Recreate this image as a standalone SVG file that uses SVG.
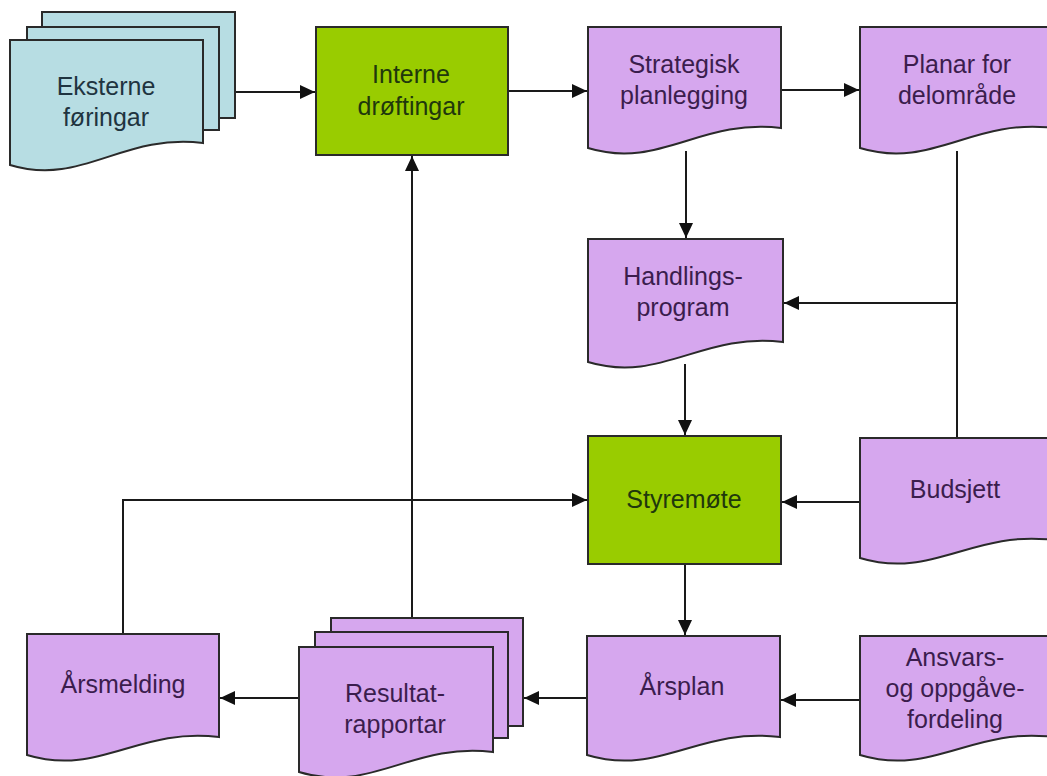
<svg xmlns="http://www.w3.org/2000/svg" width="1047" height="776" viewBox="0 0 1047 776">
<defs>
<style>
.doc{stroke:#2a2a2a;stroke-width:2;stroke-linejoin:miter}
.p{fill:#d6a7ee}
.b{fill:#b7dde3}
.g{fill:#99cc00}
.t{font-family:"Liberation Sans",Arial,sans-serif;font-size:25px;text-anchor:middle}
.tp{fill:#3b1d4d}
.tb{fill:#1f3440}
.tg{fill:#20380c}
.c{fill:none;stroke:#1a1a1a;stroke-width:2}
.a{marker-end:url(#ah)}
</style>
<marker id="ah" markerUnits="userSpaceOnUse" markerWidth="16" markerHeight="14" refX="15" refY="7" orient="auto">
<path d="M0,0 L15,7 L0,14 Z" fill="#111"/>
</marker>
</defs>
<rect width="1047" height="776" fill="#ffffff"/>
<g id="connectors">
<path class="c a" d="M236,92 H315"/>
<path class="c a" d="M509,91 H587"/>
<path class="c a" d="M782,90 H859"/>
<path class="c a" d="M686,151 V238"/>
<path class="c" d="M957,151 V438"/>
<path class="c a" d="M957,303 H784"/>
<path class="c a" d="M685,364 V435"/>
<path class="c a" d="M860,502 H782"/>
<path class="c a" d="M123,634 V500 H587"/>
<path class="c a" d="M685,565 V635"/>
<path class="c a" d="M860,700 H781"/>
<path class="c a" d="M587,698 H524"/>
<path class="c a" d="M299,698 H220"/>
<path class="c a" d="M412,618 V156"/>
</g>
<g id="eksterne">
<rect class="doc b" x="42" y="12" width="193" height="106"/>
<rect class="doc b" x="27" y="27" width="192" height="103"/>
<path class="doc b" d="M10,40 H203 V143 C122,133 82,187 10,165 Z"/>
<text class="t tb" x="106" y="95">Eksterne</text>
<text class="t tb" x="106" y="126">føringar</text>
</g>
<g id="interne">
<rect class="doc g" x="316" y="27" width="192" height="128"/>
<text class="t tg" x="411" y="83">Interne</text>
<text class="t tg" x="411" y="115">drøftingar</text>
</g>
<g id="strategisk">
<path class="doc p" d="M588,27 H781 V128 C700,118 660,170 588,148 Z"/>
<text class="t tp" x="684" y="73">Strategisk</text>
<text class="t tp" x="684" y="104">planlegging</text>
</g>
<g id="planar">
<path class="doc p" d="M860,27 H1053 V128 C972,118 932,170 860,148 Z"/>
<text class="t tp" x="957" y="73">Planar for</text>
<text class="t tp" x="957" y="104">delområde</text>
</g>
<g id="handlings">
<path class="doc p" d="M588,239 H783 V342 C702,332 661,384 588,362 Z"/>
<text class="t tp" x="683" y="285">Handlings-</text>
<text class="t tp" x="683" y="316">program</text>
</g>
<g id="styremote">
<rect class="doc g" x="588" y="436" width="193" height="128"/>
<text class="t tg" x="684" y="508">Styremøte</text>
</g>
<g id="budsjett">
<path class="doc p" d="M860,438 H1053 V540 C972,530 932,580 860,558 Z"/>
<text class="t tp" x="955" y="498">Budsjett</text>
</g>
<g id="arsplan">
<path class="doc p" d="M587,636 H780 V737 C699,727 659,777 587,755 Z"/>
<text class="t tp" x="682" y="695">Årsplan</text>
</g>
<g id="ansvars">
<path class="doc p" d="M860,636 H1053 V737 C972,727 932,777 860,755 Z"/>
<text class="t tp" x="955" y="666">Ansvars-</text>
<text class="t tp" x="955" y="697">og oppgåve-</text>
<text class="t tp" x="955" y="728">fordeling</text>
</g>
<g id="resultat">
<rect class="doc p" x="331" y="618" width="192" height="108"/>
<rect class="doc p" x="315" y="632" width="193" height="106"/>
<path class="doc p" d="M299,647 H493 V752 C412,742 372,794 299,772 Z"/>
<text class="t tp" x="395" y="702">Resultat-</text>
<text class="t tp" x="395" y="733">rapportar</text>
</g>
<g id="arsmelding">
<path class="doc p" d="M27,634 H219 V737 C138,727 99,777 27,755 Z"/>
<text class="t tp" x="123" y="693">Årsmelding</text>
</g>
</svg>
